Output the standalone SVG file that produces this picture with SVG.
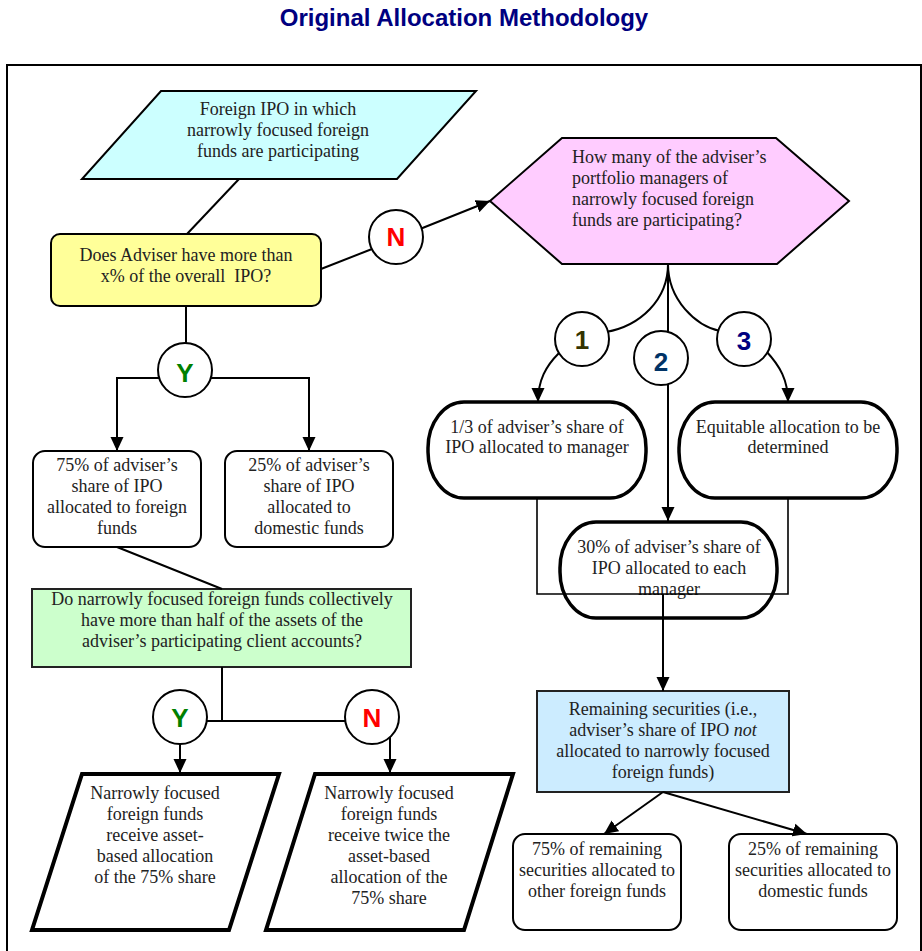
<svg xmlns="http://www.w3.org/2000/svg" width="922" height="951" viewBox="0 0 922 951">
<style>
.t{font-family:"Liberation Serif","Times New Roman",serif;font-size:18px;fill:#222;text-anchor:middle}
.tl{text-anchor:start}
.ln{fill:none;stroke:#000;stroke-width:2}
.ar{marker-end:url(#ah)}
.box{fill:#fff;stroke:#000;stroke-width:2}
.stad{fill:#fff;stroke:#000;stroke-width:3.5}
.para{fill:#fff;stroke:#000;stroke-width:4}
.circ{fill:#fff;stroke:#000;stroke-width:2}
.lbl{font-family:"Liberation Sans",Arial,sans-serif;font-weight:bold;font-size:26px;text-anchor:middle}
</style>
<defs>
<marker id="ah" markerUnits="userSpaceOnUse" markerWidth="14" markerHeight="14" refX="14" refY="6.5" orient="auto" viewBox="0 0 14 13">
<path d="M0,0 L14,6.5 L0,13 z" fill="#000"/>
</marker>
</defs>
<rect width="922" height="951" fill="#fff"/>
<text x="464" y="26" font-family="'Liberation Sans',Arial,sans-serif" font-weight="bold" font-size="24" fill="#000080" text-anchor="middle">Original Allocation Methodology</text>
<rect x="7" y="65" width="914" height="920" fill="none" stroke="#000" stroke-width="2"/>

<g id="n-foreign-ipo">
<polygon points="161,91 476,91 397,179 82,179" fill="#CCFFFF" stroke="#000" stroke-width="2"/>
<text class="t" x="278" y="115">Foreign IPO in which</text>
<text class="t" x="278" y="136">narrowly focused foreign</text>
<text class="t" x="278" y="157">funds are participating</text>
</g>
<g id="n-adviser-q">
<rect x="51" y="234" width="270" height="72" rx="9" fill="#FFFF99" stroke="#000" stroke-width="2"/>
<text class="t" x="186" y="261">Does Adviser have more than</text>
<text class="t" x="186" y="282" xml:space="preserve">x% of the overall  IPO?</text>
</g>
<g id="n-how-many">
<polygon points="490,201 562,138 776,138 849,201 777,264 562,264" fill="#FFCCFF" stroke="#000" stroke-width="2"/>
<text class="t tl" x="572" y="163">How many of the adviser’s</text>
<text class="t tl" x="572" y="184">portfolio managers of</text>
<text class="t tl" x="572" y="205">narrowly focused foreign</text>
<text class="t tl" x="572" y="226">funds are participating?</text>
</g>
<g id="n-75-adviser">
<rect class="box" x="33" y="451" width="168" height="96" rx="12"/>
<text class="t" x="117" y="471">75% of adviser’s</text>
<text class="t" x="117" y="492">share of IPO</text>
<text class="t" x="117" y="513">allocated to foreign</text>
<text class="t" x="117" y="534">funds</text>
</g>
<g id="n-25-adviser">
<rect class="box" x="225" y="451" width="168" height="96" rx="12"/>
<text class="t" x="309" y="471">25% of adviser’s</text>
<text class="t" x="309" y="492">share of IPO</text>
<text class="t" x="309" y="513">allocated to</text>
<text class="t" x="309" y="534">domestic funds</text>
</g>
<g id="n-collective-q">
<rect x="32" y="589" width="379" height="78" fill="#CCFFCC" stroke="#222" stroke-width="2"/>
<text class="t" x="222" y="605">Do narrowly focused foreign funds collectively</text>
<text class="t" x="222" y="626">have more than half of the assets of the</text>
<text class="t" x="222" y="647">adviser’s participating client accounts?</text>
</g>
<g id="n-asset-based">
<polygon class="para" points="82,774 279,774 229,930 32,930"/>
<text class="t" x="155" y="799">Narrowly focused</text>
<text class="t" x="155" y="820">foreign funds</text>
<text class="t" x="155" y="841">receive asset-</text>
<text class="t" x="155" y="862">based allocation</text>
<text class="t" x="155" y="883">of the 75% share</text>
</g>
<g id="n-twice">
<polygon class="para" points="315,774 513,774 464,930 266,930"/>
<text class="t" x="389" y="799">Narrowly focused</text>
<text class="t" x="389" y="820">foreign funds</text>
<text class="t" x="389" y="841">receive twice the</text>
<text class="t" x="389" y="862">asset-based</text>
<text class="t" x="389" y="883">allocation of the</text>
<text class="t" x="389" y="904">75% share</text>
</g>
<g id="n-one-third">
<rect class="stad" x="428" y="402" width="218" height="96" rx="36" ry="46"/>
<text class="t" x="537" y="433">1/3 of adviser’s share of</text>
<text class="t" x="537" y="453">IPO allocated to manager</text>
</g>
<g id="n-equitable">
<rect class="stad" x="679" y="402" width="218" height="96" rx="36" ry="46"/>
<text class="t" x="788" y="433">Equitable allocation to be</text>
<text class="t" x="788" y="453">determined</text>
</g>
<g id="n-thirty">
<rect class="stad" x="560" y="522" width="217" height="96" rx="36" ry="46"/>
<text class="t" x="669" y="553">30% of adviser’s share of</text>
<text class="t" x="669" y="574">IPO allocated to each</text>
<text class="t" x="669" y="595">manager</text>
</g>
<g id="n-remaining">
<rect x="537" y="691" width="252" height="101" fill="#CCECFF" stroke="#222" stroke-width="2"/>
<text class="t" x="663" y="715">Remaining securities (i.e.,</text>
<text class="t" x="663" y="736">adviser’s share of IPO <tspan font-style="italic">not</tspan></text>
<text class="t" x="663" y="757">allocated to narrowly focused</text>
<text class="t" x="663" y="778">foreign funds)</text>
</g>
<g id="n-75-remaining">
<rect class="box" x="513" y="834" width="168" height="96" rx="12"/>
<text class="t" x="597" y="855">75% of remaining</text>
<text class="t" x="597" y="876">securities allocated to</text>
<text class="t" x="597" y="897">other foreign funds</text>
</g>
<g id="n-25-remaining">
<rect class="box" x="729" y="834" width="168" height="96" rx="12"/>
<text class="t" x="813" y="855">25% of remaining</text>
<text class="t" x="813" y="876">securities allocated to</text>
<text class="t" x="813" y="897">domestic funds</text>
</g>

<g id="connectors">
<line class="ln" x1="239" y1="179" x2="187" y2="234"/>
<line class="ln" x1="321" y1="269" x2="372" y2="249"/>
<line class="ln ar" x1="420" y1="229" x2="490" y2="201"/>
<line class="ln" x1="186" y1="306" x2="186" y2="345"/>
<polyline class="ln ar" points="160,378 117,378 117,451"/>
<polyline class="ln ar" points="210,378 309,378 309,451"/>
<line class="ln" x1="117" y1="547" x2="222" y2="589"/>
<polyline class="ln" points="222,667 222,721"/>
<line class="ln" x1="205" y1="721" x2="347" y2="721"/>
<line class="ln ar" x1="180" y1="742" x2="180" y2="773"/>
<line class="ln ar" x1="390" y1="736" x2="390" y2="773"/>
<path class="ln" d="M668,264 C668,300 640,326 606,332"/>
<path class="ln" d="M668,264 C668,300 696,326 720,331"/>
<line class="ln ar" x1="668" y1="264" x2="668" y2="521"/>
<path class="ln ar" d="M559,353 C546,366 538,380 538,402"/>
<path class="ln ar" d="M766,351 C780,366 788,380 788,402"/>
<polyline fill="none" stroke="#000" stroke-width="1.6" points="537,498 537,594 788,594 788,498"/>
<line class="ln ar" x1="663" y1="594" x2="663" y2="691"/>
<line class="ln ar" x1="663" y1="792" x2="604" y2="834"/>
<line class="ln ar" x1="663" y1="792" x2="807" y2="834"/>
</g>

<g id="c-n-top">
<circle class="circ" cx="396" cy="237" r="27"/>
<text class="lbl" x="396" y="246" fill="#FF0000">N</text>
</g>
<g id="c-y-top">
<circle class="circ" cx="185" cy="370" r="27"/>
<text class="lbl" x="185" y="382" fill="#008000">Y</text>
</g>
<g id="c-1">
<circle class="circ" cx="582" cy="339" r="27"/>
<text class="lbl" x="582" y="349" fill="#333300">1</text>
</g>
<g id="c-2">
<circle class="circ" cx="661" cy="358" r="27"/>
<text class="lbl" x="661" y="371" fill="#003366">2</text>
</g>
<g id="c-3">
<circle class="circ" cx="744" cy="339" r="27"/>
<text class="lbl" x="744" y="350" fill="#000080">3</text>
</g>
<g id="c-y-bottom">
<circle class="circ" cx="180" cy="717" r="27"/>
<text class="lbl" x="180" y="727" fill="#008000">Y</text>
</g>
<g id="c-n-bottom">
<circle class="circ" cx="372" cy="717" r="27"/>
<text class="lbl" x="372" y="727" fill="#FF0000">N</text>
</g>
</svg>
